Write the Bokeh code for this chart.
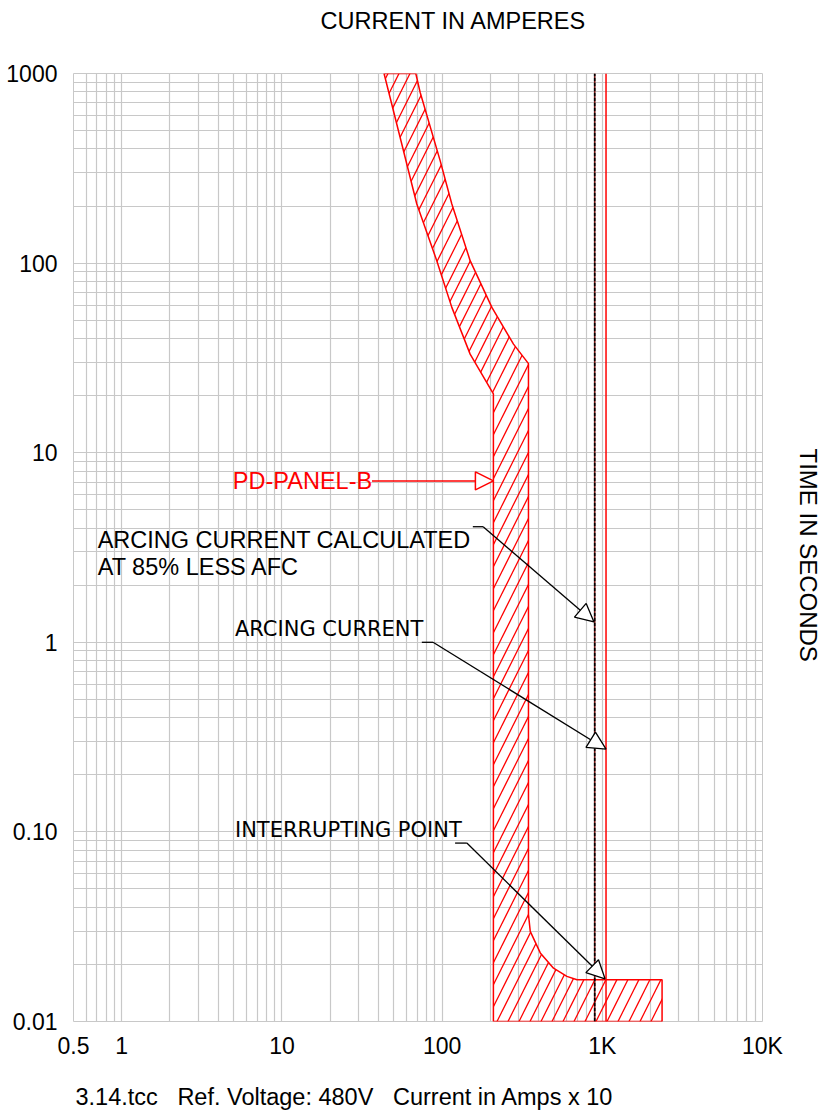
import math
from bokeh.plotting import figure
from bokeh.models import (FixedTicker, Label, Arrow, NormalHead, Title)
from bokeh.embed import file_html
from bokeh.resources import INLINE

# ---------------- data ----------------
x_major = [0.5, 1, 10, 100, 1000, 10000]
x_labels = ["0.5", "1", "10", "100", "1K", "10K"]
y_major = [0.01, 0.1, 1, 10, 100, 1000]
y_labels = ["0.01", "0.10", "1", "10", "100", "1000"]

# TCC band of PD-PANEL-B (current x10 A, time s)
band_x = [43.4, 56.0, 69.5, 92.6, 115, 149.6, 209, 209,
          2361, 2361, 695, 601, 496, 410, 355, 346,
          346, 279, 204.5, 149.6, 115, 97.2, 72.9, 68.5]
band_t = [1000, 425, 205, 103, 58.4, 33.1, 20.4, 0.01,
          0.01, 0.0166, 0.0166, 0.0173, 0.0191, 0.023, 0.0299, 0.0367,
          29.5, 37.4, 58.4, 103, 205, 347, 796, 1000]

arcing_current = 1055      # red vertical line
arcing_current_85 = 897    # dashed black vertical line

# annotation leaders: (knee start x, knee end x, knee y, tip x, tip y)
calc_lines = ["ARCING CURRENT CALCULATED", "AT 85% LESS AFC"]
calc_text_xy = [(0.708, 3.47), (0.708, 2.49)]
calc_leader = (155.5, 180.4, 4.07, 887, 1.28)

arc_text = "ARCING CURRENT"
arc_text_xy = (5.09, 1.17)
arc_leader = (74.7, 87.8, 1.0, 1055, 0.273)

int_text = "INTERRUPTING POINT"
int_text_xy = (5.09, 0.102)
int_leader = (120.5, 142.7, 0.0873, 1040, 0.0168)

panel_text = "PD-PANEL-B"
panel_text_xy = (4.94, 7.1)
panel_leader = (36.5, 209, 7.1)

title_text = "CURRENT IN AMPERES"
right_text = "TIME IN SECONDS"
footer_text = "3.14.tcc\u00a0\u00a0\u00a0Ref. Voltage: 480V\u00a0\u00a0\u00a0Current in Amps x 10"

GRID = "#c8c8c8"
FONT = "Liberation Sans"

p = figure(width=825, height=1116, x_axis_type="log", y_axis_type="log",
           x_range=(0.5, 10000), y_range=(0.01, 1000),
           output_backend="svg", toolbar_location=None,
           min_border_left=73, min_border_right=63,
           min_border_top=73, min_border_bottom=95)
p.background_fill_color = "white"
p.border_fill_color = "white"
p.outline_line_color = GRID
p.title = None

x_minor = [m * 10 ** k for k in range(-1, 4) for m in range(2, 10) if 0.5 < m * 10 ** k < 10000]
y_minor = [m * 10 ** k for k in range(-2, 3) for m in range(2, 10)]
p.xaxis.ticker = FixedTicker(ticks=x_major, minor_ticks=x_minor)
p.yaxis.ticker = FixedTicker(ticks=y_major, minor_ticks=y_minor)
p.xaxis.major_label_overrides = {v: s for v, s in zip(x_major, x_labels)}
p.yaxis.major_label_overrides = {v: s for v, s in zip(y_major, y_labels)}
for ax in (p.xaxis, p.yaxis):
    ax.axis_line_color = None
    ax.major_tick_line_color = None
    ax.minor_tick_line_color = None
    ax.major_tick_out = 0
    ax.major_tick_in = 0
    ax.major_label_text_font = FONT
    ax.major_label_text_font_size = "23px"
    ax.major_label_text_color = "black"
p.yaxis.major_label_standoff = 12
p.xaxis.major_label_standoff = 7

for g in (p.xgrid, p.ygrid):
    g.grid_line_color = GRID
    g.grid_line_width = 1.2
    g.minor_grid_line_color = GRID
    g.minor_grid_line_width = 1.2

# band
p.patch(band_x, band_t, fill_alpha=0, line_color="red", line_width=1.5,
        hatch_pattern="/", hatch_color="red", hatch_scale=22, hatch_weight=1.3)

# vertical lines
p.line([arcing_current, arcing_current], [0.01, 1000], line_color="red", line_width=1.5)
p.line([arcing_current_85, arcing_current_85], [0.01, 1000], line_color="red", line_width=1)
p.line([arcing_current_85, arcing_current_85], [0.01, 1000], line_color="black",
       line_width=1.8, line_dash="4 1")

# PD-PANEL-B leader
p.add_layout(Arrow(end=NormalHead(size=18, fill_color="white", line_color="red", line_width=1.5),
                   x_start=panel_leader[0], y_start=panel_leader[2],
                   x_end=panel_leader[1], y_end=panel_leader[2],
                   line_color="red", line_width=1.5))
p.add_layout(Label(x=panel_text_xy[0], y=panel_text_xy[1], text=panel_text,
                   text_font=FONT, text_font_size="23.5px", text_color="red",
                   text_baseline="middle"))

def leader(ld):
    x0, x1, y, tx, ty = ld
    p.line([x0, x1], [y, y], line_color="black", line_width=1.3)
    p.add_layout(Arrow(end=NormalHead(size=18, fill_color="white", line_color="black", line_width=1.3),
                       x_start=x1, y_start=y, x_end=tx, y_end=ty,
                       line_color="black", line_width=1.3))

leader(calc_leader)
leader(arc_leader)
leader(int_leader)

for (tx, ty), s in zip(calc_text_xy, calc_lines):
    p.add_layout(Label(x=tx, y=ty, text=s, text_font=FONT, text_font_size="23.5px",
                       text_color="black", text_baseline="middle"))
p.add_layout(Label(x=arc_text_xy[0], y=arc_text_xy[1], text=arc_text, text_font="DejaVu Sans",
                   text_font_size="21px", text_color="black", text_baseline="middle"))
p.add_layout(Label(x=int_text_xy[0], y=int_text_xy[1], text=int_text, text_font="DejaVu Sans",
                   text_font_size="21px", text_color="black", text_baseline="middle"))

# outer texts as titles (side panels); a blank spacer title sits between frame and text
def side_title(text, side, size, align, offset, gap):
    p.add_layout(Title(text=" ", text_font_size="10px", standoff=gap), side)
    p.add_layout(Title(text=text, align=align, offset=offset, standoff=0,
                       vertical_align="bottom", text_color="black",
                       text_font=FONT, text_font_size=size, text_font_style="normal"), side)

side_title(title_text, "above", "23.5px", "left", 247, 27)
side_title(right_text, "right", "24px", "left", 375, 19)
side_title(footer_text, "below", "23.5px", "left", 2, 7)

open("out.html", "w").write(file_html(p, INLINE))
